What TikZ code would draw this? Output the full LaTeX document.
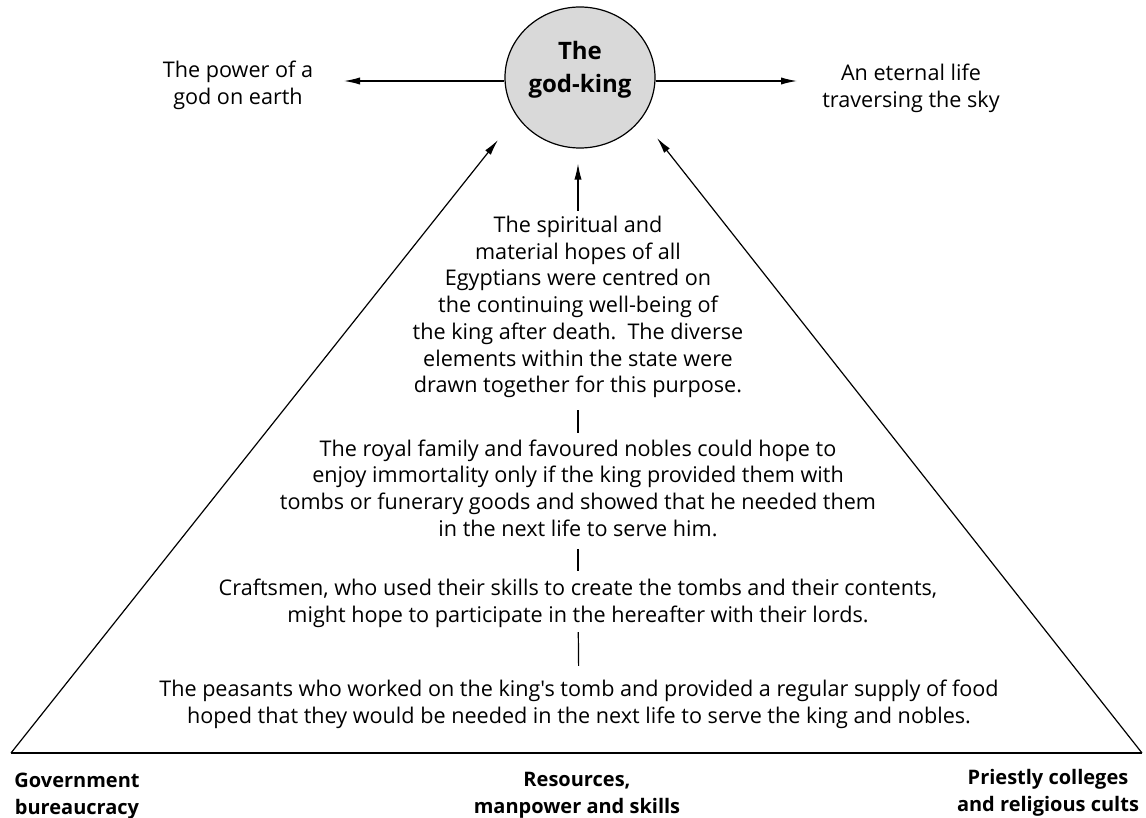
\documentclass[tikz,border=0pt]{standalone}
\usepackage{fontspec}
\setmainfont{Open Sans}[Ligatures=TeXOff]
\usetikzlibrary{arrows.meta, shapes.geometric}
\tikzset{
  kingball/.style = {ellipse, draw, fill=black!15, line width=0.6pt,
                     minimum width=75pt, minimum height=70.5pt, inner sep=0pt},
  arr/.style      = {-{Latex[length=8pt, width=3.6pt]}, line width=0.6pt},
  rim/.style      = {line width=0.6pt},
  link/.style     = {line width=0.6pt},
  txt/.style      = {align=center, inner sep=0pt, font=\fontsize{10.8}{13.35}\selectfont},
  hd/.style       = {align=center, inner sep=0pt, font=\bfseries\fontsize{12}{16.5}\selectfont},
  foot/.style     = {align=center, inner sep=0pt, font=\bfseries\fontsize{10}{13.5}\selectfont},
}

\begin{document}
\begin{tikzpicture}[x=0.5pt, y=-0.5pt]
  \useasboundingbox (0,0) rectangle (1146,818);
  % the god-king at the top
  \node[kingball] (king) at (580,77.5) {};
  \node[hd] (kinglbl) at ([yshift=4pt]king.center) {The\\god-king};
  \node[txt] (power)   at (238,85.5) {The power of a\\god on earth};
  \node[txt] (eternal) at (911,88.5) {An eternal life\\traversing the sky};
  \coordinate (powtip) at (344,81);
  \coordinate (skytip) at (797,81);
  \draw[arr] (powtip -| king.west) -- (powtip);
  \draw[arr] (skytip -| king.east) -- (skytip);

  % the pyramid
  \coordinate (bl) at (11,753);
  \coordinate (br) at (1142,753);
  \coordinate (tl) at (498,140);
  \coordinate (tr) at (657,138);
  \draw[rim] (bl) -- (br);
  \draw[arr] (bl) -- (tl);
  \draw[arr] (br) -- (tr);

  % the levels
  \node[txt] (hopes) at (578,307) {The spiritual and\\material hopes of all\\Egyptians were centred on\\the continuing well-being of\\the king after death.\ \ The diverse\\elements within the state were\\drawn together for this purpose.};
  \node[txt] (royal) at (578,488) {The royal family and favoured nobles could hope to\\enjoy immortality only if the king provided them with\\tombs or funerary goods and showed that he needed them\\in the next life to serve him.};
  \node[txt] (craft) at (578,603.5) {Craftsmen, who used their skills to create the tombs and their contents,\\might hope to participate in the hereafter with their lords.};
  \node[txt] (peasant) at (579,704.5) {The peasants who worked on the king's tomb and provided a regular supply of food\\hoped that they would be needed in the next life to serve the king and nobles.};
  \draw[arr, shorten <=2.5pt, shorten >=7.5pt] (hopes.north) -- (hopes.north |- king.south);
  \draw[link, shorten <=6pt, shorten >=3pt] (hopes) -- (royal);
  \draw[link, shorten <=6pt, shorten >=4pt] (royal) -- (craft);
  \draw[link, shorten <=2pt, shorten >=7pt] (craft) -- (peasant);

  % the three pillars
  \node[foot] (gov)    at (77,796.5)  {Government\\bureaucracy};
  \node[foot] (res)    at (577,795)   {Resources,\\manpower and skills};
  \node[foot] (priest) at (1048,793)  {Priestly colleges\\and religious cults};
\end{tikzpicture}
\end{document}
